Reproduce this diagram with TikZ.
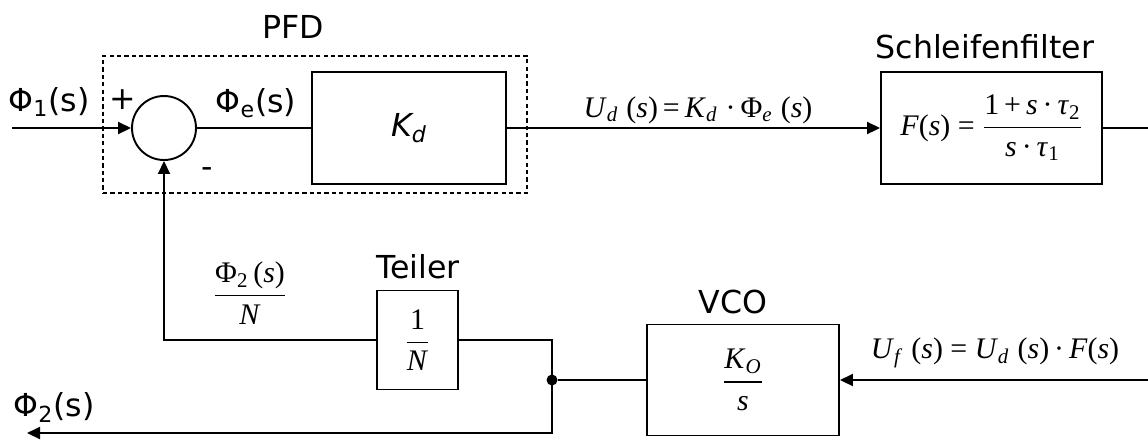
\documentclass[tikz,border=0pt]{standalone}
\usepackage{amsmath}
\usepackage{fontspec}
\setmainfont{DejaVu Sans}
\newfontfamily\tms{Liberation Serif}
\usetikzlibrary{arrows.meta}
\newcommand{\vi}[1]{\textit{#1}}
\tikzset{
  blk/.style   ={rectangle, draw=black, line width=1.1pt, inner sep=0pt, align=center},
  sumc/.style  ={circle, draw=black, line width=1.1pt, minimum size=1.28cm, inner sep=0pt},
  pfdbox/.style={rectangle, draw=black, line width=0.6pt, dash pattern=on 2.4pt off 1.8pt, inner sep=0pt},
  lbl/.style   ={font=\fontsize{18}{21}\selectfont, inner sep=0pt},
  eq/.style    ={font=\tms\fontsize{17}{20}\selectfont, inner sep=0pt},
  wire/.style  ={draw=black, line width=1.1pt},
  flow/.style  ={-{Triangle[length=0.26cm, width=0.24cm]}, draw=black, line width=1.1pt},
  jdot/.style  ={circle, fill=black, inner sep=0pt, minimum size=0.22cm},
}

\begin{document}
\begin{tikzpicture}
  \useasboundingbox (0,0) rectangle (22.96,-8.82);
  % phase detector
  \node[pfdbox, minimum width=8.48cm, minimum height=2.74cm] (pfd) at (6.30,-2.49) {};
  \node[lbl]  (pfdl) at (5.86,-0.54) {PFD};
  \coordinate (in) at (0.24,-2.56);
  \node[sumc] (sum)  at (3.28,-2.56) {};
  \node[blk, minimum width=3.88cm, minimum height=2.24cm, font=\fontsize{18}{21}\selectfont\itshape]
              (kd)   at (8.18,-2.56) {K\textsubscript{d}};
  % loop filter
  \node[lbl]  (filtl) at (19.70,-0.94) {Schleifenfilter};
  \node[blk, eq, minimum width=4.42cm, minimum height=2.24cm]
              (filt) at (19.83,-2.56)
              {\vi{F}(\vi{s}) = $\dfrac{\text{1\,+\,\vi{s}\,·\,\vi{τ}\textsubscript{2}}}{\text{\vi{s}\,·\,\vi{τ}\textsubscript{1}}}$};
  \coordinate (outr) at (22.96,-2.56);
  % vco and divider
  \node[lbl]  (vcol) at (14.66,-6.04) {VCO};
  \node[blk, eq, minimum width=3.84cm, minimum height=2.22cm]
              (vco)  at (14.86,-7.60) {$\dfrac{\text{\vi{K}\textsubscript{\vi{O}}}}{\text{\vi{s}}}$};
  \coordinate (inr) at (22.96,-7.60);
  \node[jdot] (tap)  at (11.04,-7.60) {};
  \node[lbl]  (divl) at (8.36,-5.34) {Teiler};
  \node[blk, eq, minimum width=1.62cm, minimum height=1.98cm]
              (div)  at (8.35,-6.80) {$\dfrac{\text{1}}{\text{\vi{N}}}$};
  \coordinate (bend) at (11.04,-8.66);
  \coordinate (out)  at (0.54,-8.66);
  % signal labels
  \node[lbl] (phi1) at (0.98,-2.04) {Φ\textsubscript{1}(s)};
  \node[lbl] (plus) at (2.46,-2.00) {+};
  \node[lbl] (minus) at (4.14,-3.46) {-};
  \node[lbl] (phie) at (5.12,-2.06) {Φ\textsubscript{e}(s)};
  \node[eq]  (ud)   at (13.96,-2.20)
             {\vi{U}\textsubscript{\vi{d}}\;(\vi{s})\,=\,\vi{K}\textsubscript{\vi{d}}\;·\,Φ\textsubscript{\vi{e}}\;(\vi{s})};
  \node[eq]  (uf)   at (19.90,-7.06)
             {\vi{U}\textsubscript{\vi{f}}\;(\vi{s}) = \vi{U}\textsubscript{\vi{d}}\;(\vi{s})\,·\,\vi{F}(\vi{s})};
  \node[eq]  (fb)   at (5.00,-5.86) {$\dfrac{\text{Φ\textsubscript{2}\,(\vi{s})}}{\text{\vi{N}}}$};
  \node[lbl] (phi2) at (1.08,-8.14) {Φ\textsubscript{2}(s)};
  % connections
  \draw[flow] (in) -- (sum);
  \draw[wire] (sum) -- (kd);
  \draw[flow] (kd) -- (filt);
  \draw[wire] (filt) -- (outr);
  \draw[flow] (inr) -- (vco);
  \draw[wire] (vco) -- (tap);
  \draw[flow] (div.east) -| (bend) -- (out);
  \draw[flow] (div.west) -| (sum.south);
\end{tikzpicture}
\end{document}
